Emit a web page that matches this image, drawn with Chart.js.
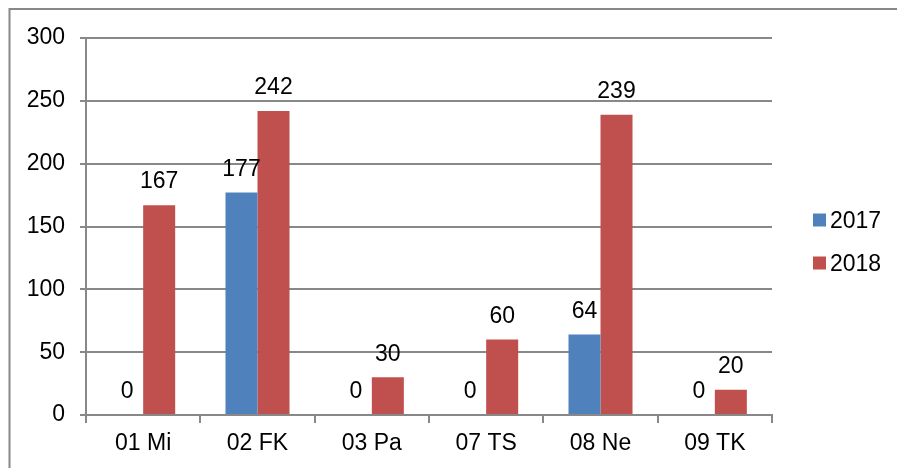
<!DOCTYPE html>
<html>
<head>
<meta charset="utf-8">
<script src="https://cdn.jsdelivr.net/npm/chart.js@4/dist/chart.umd.min.js"></script>
<style>
html,body{margin:0;padding:0;background:#fff;}
#wrap{position:relative;width:897px;height:468px;}
</style>
</head>
<body>
<div id="wrap"><canvas id="c" width="897" height="468"></canvas></div>
<script>
const categories = ["01 Mi", "02 FK", "03 Pa", "07 TS", "08 Ne", "09 TK"];
const series2017 = [0, 177, 0, 0, 64, 0];
const series2018 = [167, 242, 30, 60, 239, 20];
const seriesNames = ["2017", "2018"];
const yTicks = [0, 50, 100, 150, 200, 250, 300];

const FONT = "'Liberation Sans', Arial, sans-serif";
const GRID = "#888888";
const colors = ["#4F81BD", "#C0504D"];

const framePlugin = {
  id: 'frame',
  beforeDraw(chart) {
    const ctx = chart.ctx;
    ctx.save();
    ctx.fillStyle = '#fff';
    ctx.fillRect(0, 0, chart.width, chart.height);
    ctx.strokeStyle = GRID;
    ctx.lineWidth = 2;
    ctx.beginPath();
    ctx.moveTo(9.5, chart.height);
    ctx.lineTo(9.5, 9);
    ctx.lineTo(chart.width, 9);
    ctx.stroke();
    ctx.restore();
  }
};

const labelPlugin = {
  id: 'valueLabels',
  afterDatasetsDraw(chart) {
    const ctx = chart.ctx;
    ctx.save();
    ctx.font = "23px " + FONT;
    ctx.fillStyle = '#000';
    ctx.textAlign = 'center';
    ctx.textBaseline = 'middle';
    chart.data.datasets.forEach((ds, i) => {
      const meta = chart.getDatasetMeta(i);
      meta.data.forEach((el, j) => {
        ctx.fillText(String(ds.data[j]), el.x, el.y - 23);
      });
    });
    // legend
    const lx = 813, ly = [220, 263];
    chart.data.datasets.forEach((ds, i) => {
      ctx.fillStyle = ds.backgroundColor;
      ctx.fillRect(lx, ly[i] - 6.5, 13, 13);
      ctx.fillStyle = '#000';
      ctx.textAlign = 'left';
      ctx.fillText(ds.label, lx + 17, ly[i] + 2);
    });
    ctx.restore();
  }
};

new Chart(document.getElementById('c'), {
  type: 'bar',
  data: {
    labels: categories,
    datasets: [
      { label: seriesNames[0], data: series2017, backgroundColor: colors[0] },
      { label: seriesNames[1], data: series2018, backgroundColor: colors[1] }
    ]
  },
  options: {
    responsive: false,
    animation: false,
    devicePixelRatio: 1,
    layout: { padding: { left: 0, right: 125, top: 38, bottom: 0 } },
    datasets: { bar: { categoryPercentage: 0.56, barPercentage: 1.0 } },
    plugins: { legend: { display: false }, tooltip: { enabled: false } },
    scales: {
      x: {
        offset: true,
        grid: { display: true, drawOnChartArea: false, drawTicks: true, tickLength: 8, color: GRID, lineWidth: 2, offset: true },
        border: { display: true, color: GRID, width: 2 },
        ticks: { font: { family: FONT, size: 23 }, color: '#000', padding: 7, maxRotation: 0 },
        afterFit(s) { s.height = 53; }
      },
      y: {
        min: 0, max: 300,
        afterBuildTicks(s) { s.ticks = yTicks.map(v => ({ value: v })); },
        grid: { color: GRID, lineWidth: 2, tickLength: 6, drawTicks: true },
        border: { display: true, color: GRID, width: 2 },
        ticks: { font: { family: FONT, size: 23 }, color: '#000', padding: 15 },
        afterFit(s) { s.width = 86; }
      }
    }
  },
  plugins: [framePlugin, labelPlugin]
});
</script>
</body>
</html>
